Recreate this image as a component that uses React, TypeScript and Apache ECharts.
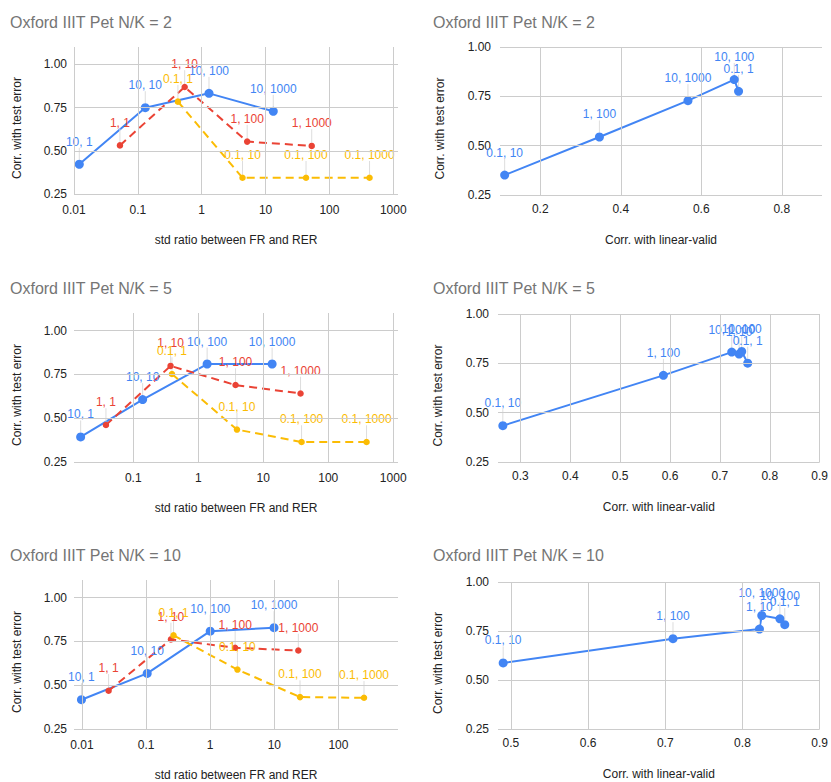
import React, { useEffect, useRef } from "react";
import * as echarts from "echarts";

const BLUE = "#4285F4";
const RED = "#EA4335";
const YELLOW = "#FBBC04";
const GRID = "#cccccc";
const FONT = "'Liberation Sans', Arial, Helvetica, sans-serif";

// point names (left panels)
const blueNames = ["10, 1", "10, 10", "10, 100", "10, 1000"];
const redNames = ["1, 1", "1, 10", "1, 100", "1, 1000"];
const yellowNames = ["0.1, 1", "0.1, 10", "0.1, 100", "0.1, 1000"];

// N/K = 2 : std ratio between FR and RER
const nk2BlueX = [0.0121, 0.1306, 1.3, 13.2];
const nk2BlueY = [0.422, 0.749, 0.832, 0.728];
const nk2RedX = [0.0524, 0.541, 5.15, 52.8];
const nk2RedY = [0.531, 0.869, 0.553, 0.528];
const nk2YellowX = [0.424, 4.35, 43, 425];
const nk2YellowY = [0.784, 0.344, 0.344, 0.344];

// N/K = 5
const nk5BlueX = [0.0155, 0.1395, 1.37, 13.7];
const nk5BlueY = [0.393, 0.606, 0.809, 0.809];
const nk5RedX = [0.038, 0.375, 3.75, 37.5];
const nk5RedY = [0.461, 0.798, 0.689, 0.641];
const nk5YellowX = [0.394, 3.94, 38.9, 389];
const nk5YellowY = [0.752, 0.435, 0.364, 0.364];

// N/K = 10
const nk10BlueX = [0.0098, 0.104, 1.0, 9.9];
const nk10BlueY = [0.417, 0.567, 0.808, 0.828];
const nk10RedX = [0.026, 0.244, 2.45, 23.7];
const nk10RedY = [0.468, 0.761, 0.713, 0.698];
const nk10YellowX = [0.268, 2.66, 25.2, 251];
const nk10YellowY = [0.784, 0.589, 0.432, 0.428];

// right panels : Corr. with linear-valid
const nk2ValNames = ["0.1, 10", "1, 100", "10, 1000", "10, 100", "0.1, 1"];
const nk2ValX = [0.1116, 0.347, 0.567, 0.682, 0.6927];
const nk2ValY = [0.351, 0.544, 0.728, 0.835, 0.7755];

const nk5ValNames = ["0.1, 10", "1, 100", "10, 1000", "1, 10", "10, 100", "0.1, 1"];
const nk5ValX = [0.2647, 0.5867, 0.7237, 0.7385, 0.7437, 0.7557];
const nk5ValY = [0.434, 0.689, 0.807, 0.797, 0.81, 0.751];

const nk10ValNames = ["0.1, 10", "1, 100", "1, 10", "10, 1000", "10, 100", "0.1, 1"];
const nk10ValX = [0.49, 0.71, 0.822, 0.825, 0.8485, 0.8548];
const nk10ValY = [0.587, 0.711, 0.76, 0.829, 0.812, 0.782];

// tick labels
const yTicks = [0.25, 0.5, 0.75, 1.0];
const ratioTicks2 = [0.01, 0.1, 1, 10, 100, 1000];
const ratioTicks5 = [0.1, 1, 10, 100, 1000];
const ratioTicks10 = [0.01, 0.1, 1, 10, 100];
const validTicks2 = [0.2, 0.4, 0.6, 0.8];
const validTicks5 = [0.3, 0.4, 0.5, 0.6, 0.7, 0.8, 0.9];
const validTicks10 = [0.5, 0.6, 0.7, 0.8, 0.9];

const titles = [
  "Oxford IIIT Pet N/K = 2",
  "Oxford IIIT Pet N/K = 2",
  "Oxford IIIT Pet N/K = 5",
  "Oxford IIIT Pet N/K = 5",
  "Oxford IIIT Pet N/K = 10",
  "Oxford IIIT Pet N/K = 10",
];

const X_NAME_LEFT = "std ratio between FR and RER";
const X_NAME_RIGHT = "Corr. with linear-valid";
const Y_NAME = "Corr. with test error";

function matchTick(v: number, ticks: number[]) {
  for (const t of ticks) {
    if (Math.abs(v / t - 1) < 1e-6) return t;
  }
  return null;
}

function tickFormatter(ticks: number[], fixed?: number) {
  return (v: number) => {
    const t = matchTick(v, ticks);
    if (t === null) return "";
    return fixed !== undefined ? t.toFixed(fixed) : String(t);
  };
}

function pts(names: string[], xs: number[], ys: number[]) {
  return xs.map((x, i) => ({ name: names[i], value: [x, ys[i]] }));
}

function lineSeries(
  idx: number,
  names: string[],
  xs: number[],
  ys: number[],
  color: string,
  dashed: boolean,
  big: boolean
) {
  return {
    type: "line",
    xAxisIndex: idx,
    yAxisIndex: idx,
    data: pts(names, xs, ys),
    symbol: "circle",
    symbolSize: big ? 9 : 6.5,
    showAllSymbol: true,
    itemStyle: { color },
    lineStyle: { color, width: 2, type: dashed ? [8, 5] : "solid" },
    label: {
      show: true,
      position: "top",
      distance: big ? 1 : 2.5,
      formatter: "{b}",
      color,
      fontSize: 12,
      fontFamily: FONT,
    },
    labelLayout: { dy: -11 },
    labelLine: { show: true, lineStyle: { color: "#dddddd", width: 1 } },
    emphasis: { disabled: true },
    z: 3,
  };
}

function gridSeries(idx: number, xs: number[], ys: number[]) {
  return {
    type: "line",
    xAxisIndex: idx,
    yAxisIndex: idx,
    data: [],
    silent: true,
    z: 1,
    markLine: {
      silent: true,
      symbol: ["none", "none"],
      label: { show: false },
      emphasis: { disabled: true },
      lineStyle: { color: GRID, width: 1, type: "solid" },
      data: [...xs.map((v) => ({ xAxis: v })), ...ys.map((v) => ({ yAxis: v }))],
    },
  };
}

type Panel = {
  left: number;
  top: number;
  width: number;
  height: number;
  log: boolean;
  xmin: number;
  xmax: number;
  ymax: number;
  xTicks: number[];
  titleLeft: number;
  titleTop: number;
};

const panels: Panel[] = [
  { left: 74, top: 47, width: 324, height: 147, log: true, xmin: 0.01, xmax: 1185, ymax: 1.1, xTicks: ratioTicks2, titleLeft: 10, titleTop: 14 },
  { left: 500, top: 47, width: 322, height: 148, log: false, xmin: 0.1, xmax: 0.9, ymax: 1.0, xTicks: validTicks2, titleLeft: 433, titleTop: 14 },
  { left: 74, top: 313, width: 324, height: 149, log: true, xmin: 0.01225, xmax: 1185, ymax: 1.1, xTicks: ratioTicks5, titleLeft: 10, titleTop: 280 },
  { left: 498, top: 314, width: 324, height: 148, log: false, xmin: 0.255, xmax: 0.9, ymax: 1.0, xTicks: validTicks5, titleLeft: 433, titleTop: 280 },
  { left: 74, top: 580, width: 324, height: 149, log: true, xmin: 0.0075, xmax: 851, ymax: 1.1, xTicks: ratioTicks10, titleLeft: 10, titleTop: 547 },
  { left: 498, top: 582, width: 324, height: 147, log: false, xmin: 0.4833, xmax: 0.9, ymax: 1.0, xTicks: validTicks10, titleLeft: 433, titleTop: 547 },
];

function buildOption() {
  const title = panels.map((p, i) => ({
    text: titles[i],
    left: p.titleLeft,
    top: p.titleTop,
    padding: 0,
    textStyle: { fontSize: 16, color: "#757575", fontWeight: "normal", fontFamily: FONT },
  }));
  const grid = panels.map((p) => ({
    left: p.left,
    top: p.top,
    width: p.width,
    height: p.height,
    containLabel: false,
  }));
  const xAxis = panels.map((p, i) => ({
    type: p.log ? "log" : "value",
    logBase: 10,
    gridIndex: i,
    min: p.xmin,
    max: p.xmax,
    axisLine: { show: false },
    axisTick: { show: false },
    splitLine: { show: false },
    axisLabel: {
      formatter: tickFormatter(p.xTicks),
      color: "#222222",
      fontSize: 12,
      fontFamily: FONT,
      margin: p.log ? 10 : 8,
      showMinLabel: true,
      showMaxLabel: true,
    },
    name: p.log ? X_NAME_LEFT : X_NAME_RIGHT,
    nameLocation: "middle",
    nameGap: p.log ? 40 : 39,
    nameTextStyle: { fontSize: 12, color: "#222222", fontFamily: FONT },
  }));
  const yAxis = panels.map((p, i) => ({
    type: "value",
    gridIndex: i,
    min: 0.25,
    max: p.ymax,
    interval: 0.25,
    axisLine: { show: false },
    axisTick: { show: false },
    splitLine: { show: false },
    axisLabel: {
      formatter: tickFormatter(yTicks, 2),
      color: "#222222",
      fontSize: 12,
      fontFamily: FONT,
      margin: p.log ? 7 : 9,
    },
    name: Y_NAME,
    nameLocation: "middle",
    nameGap: p.log ? 51 : 54,
    nameTextStyle: {
      fontSize: 12,
      color: "#222222",
      fontFamily: FONT,
      padding: [0, 15, 0, 0],
    },
  }));

  const series: any[] = [];
  panels.forEach((p, i) => series.push(gridSeries(i, p.xTicks, yTicks)));

  const left = [
    { idx: 0, bx: nk2BlueX, by: nk2BlueY, rx: nk2RedX, ry: nk2RedY, yx: nk2YellowX, yy: nk2YellowY },
    { idx: 2, bx: nk5BlueX, by: nk5BlueY, rx: nk5RedX, ry: nk5RedY, yx: nk5YellowX, yy: nk5YellowY },
    { idx: 4, bx: nk10BlueX, by: nk10BlueY, rx: nk10RedX, ry: nk10RedY, yx: nk10YellowX, yy: nk10YellowY },
  ];
  left.forEach((l) => {
    series.push(lineSeries(l.idx, blueNames, l.bx, l.by, BLUE, false, true));
    series.push(lineSeries(l.idx, redNames, l.rx, l.ry, RED, true, false));
    series.push(lineSeries(l.idx, yellowNames, l.yx, l.yy, YELLOW, true, false));
  });

  const right = [
    { idx: 1, n: nk2ValNames, x: nk2ValX, y: nk2ValY },
    { idx: 3, n: nk5ValNames, x: nk5ValX, y: nk5ValY },
    { idx: 5, n: nk10ValNames, x: nk10ValX, y: nk10ValY },
  ];
  right.forEach((r) => {
    series.push(lineSeries(r.idx, r.n, r.x, r.y, BLUE, false, true));
  });

  return {
    animation: false,
    backgroundColor: "#ffffff",
    textStyle: { fontFamily: FONT },
    title,
    grid,
    xAxis,
    yAxis,
    series,
  };
}

export default function App() {
  const ref = useRef<HTMLDivElement>(null);
  useEffect(() => {
    if (!ref.current) return;
    const chart = echarts.init(ref.current, undefined, { renderer: "svg" });
    chart.setOption(buildOption() as any);
    return () => chart.dispose();
  }, []);
  return (
    <div
      ref={ref}
      style={{ position: "absolute", left: 0, top: 0, width: 831, height: 782, background: "#fff" }}
    />
  );
}
